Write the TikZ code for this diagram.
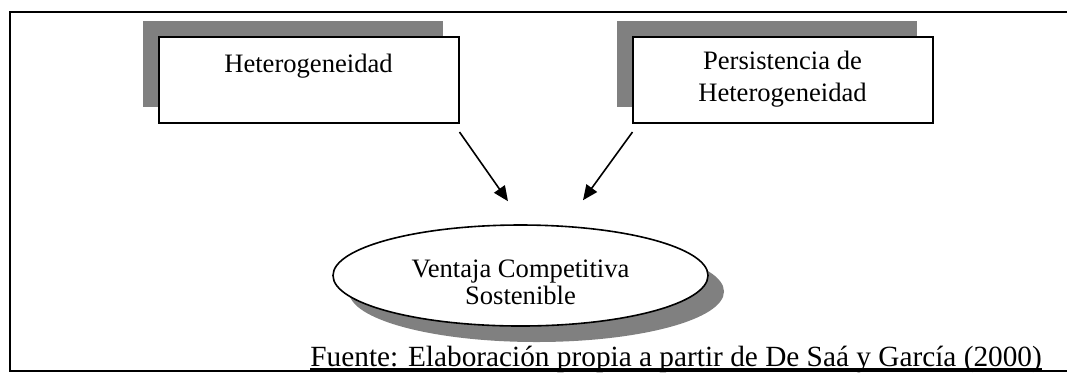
\documentclass[tikz,border=0pt]{standalone}
\usepackage{fontspec}
\setmainfont{Liberation Serif}
\usetikzlibrary{calc,positioning,shapes.geometric,shadows,arrows.meta}
\definecolor{shadowgrey}{gray}{0.5}

\begin{document}
\begin{tikzpicture}[x=0.5pt,y=-0.5pt]

\tikzset{boxnode/.style={draw=black,line width=1pt,fill=white,minimum width=150pt,minimum height=43pt,inner sep=0pt,
general shadow={fill=shadowgrey,shadow xshift=-8pt,shadow yshift=8pt}},
ovalnode/.style={shape=ellipse,draw=black,line width=0.8pt,fill=white,minimum width=187.5pt,minimum height=50.5pt,inner sep=0pt,
general shadow={fill=shadowgrey,shadow xshift=8pt,shadow yshift=-8pt}},
txtnode/.style={font=\fontsize{13.3}{16}\selectfont,align=center,inner sep=0pt},
arr/.style={line width=0.8pt,-{Triangle[length=7.5pt,width=6.5pt]}}}

% Frame
\useasboundingbox (0,0) rectangle (1067,372);
\draw[line width=1pt] (1067,12) -- (10,12) -- (10,370.5) -- (1067,370.5);

% Top boxes
\node[boxnode] (het) at (308.5,80) {};
\node[boxnode] (per) at (782.5,80) {};
\node[txtnode,anchor=north] (hetText) at ($(het.north)+(0,17.5)$) {Heterogeneidad};
\node[txtnode,anchor=north] (perText) at ($(per.north)+(0,14.8)$) {Persistencia de\\Heterogeneidad};

% Oval
\node[ovalnode] (vcs) at (520.5,275.5) {};
\node[txtnode,font=\fontsize{13.3}{13.5}\selectfont] (vcsText) at ($(vcs.center)+(0,7)$) {Ventaja Competitiva\\Sostenible};

% Arrows
\coordinate (tipL) at ($(vcs.north)+(-12.5,-23)$);
\coordinate (tipR) at ($(vcs.north)+(62.5,-24)$);
\draw[arr] ($(het.south east)+(0,8)$) -- (tipL);
\draw[arr] ($(per.south west)+(1,8)$) -- (tipR);

% Source
\node[font=\fontsize{14.65}{17}\selectfont,anchor=base west,inner sep=0pt] (src) at (310,366) {Fuente: Elaboración propia a partir de De Saá y García (2000)};
\draw[line width=0.6pt] ($(src.base west)+(0,3)$) -- ($(src.base east)+(0,3)$);

\end{tikzpicture}
\end{document}
